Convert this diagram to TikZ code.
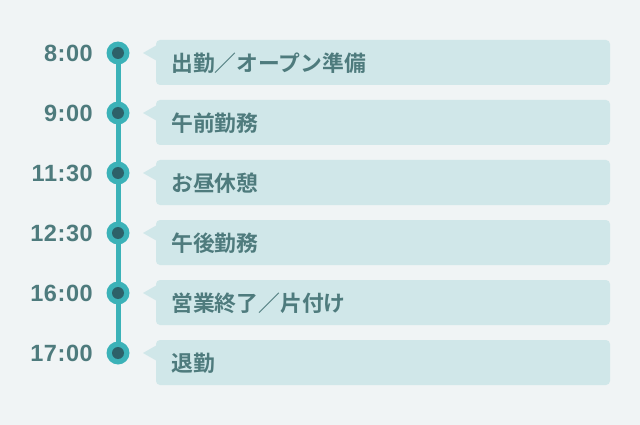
\documentclass[tikz,border=0pt]{standalone}
\usepackage{fontspec}
\setmainfont{Liberation Sans}
\newfontfamily\timefont{Liberation Sans}[LetterSpace=2.5]
\newfontfamily\jpfont{Noto Sans CJK JP}[BoldFont={* Bold}]
\definecolor{bgc}{HTML}{F0F4F5}
\definecolor{teal}{HTML}{3BB2B8}
\definecolor{dotin}{HTML}{2D6169}
\definecolor{boxc}{HTML}{D0E7E9}
\definecolor{txtc}{HTML}{4E7B7D}
\tikzset{
  timelbl/.style={anchor=east, text=txtc, font=\timefont\fontsize{23.5}{23.5}\selectfont\bfseries, inner sep=0pt},
  evbox/.style={fill=boxc, rounded corners=4pt, draw=none},
  evtext/.style={anchor=west, text=txtc, font=\jpfont\fontsize{21.8}{22}\selectfont\bfseries, inner sep=0pt},
  outerdot/.style={circle, fill=teal, minimum size=23pt, inner sep=0pt},
  innerdot/.style={circle, fill=dotin, minimum size=12pt, inner sep=0pt},
}
\begin{document}
\begin{tikzpicture}[x=1pt,y=-1pt]
\fill[bgc] (0,0) rectangle (640,425);
\useasboundingbox (0,0) rectangle (640,425);
\coordinate (top) at (118,53);
\coordinate (bot) at (118,353);
\draw[teal, line width=5pt] (top) -- (bot);
\foreach \i/\t/\e in {0/8:00/出勤／オープン準備, 1/9:00/午前勤務, 2/11:30/お昼休憩, 3/12:30/午後勤務, 4/16:00/営業終了／片付け, 5/17:00/退勤}{
  \pgfmathsetmacro{\yy}{53+60*\i}
  \node[outerdot] (d\i) at (118,\yy) {};
  \node[innerdot] at (d\i) {};
  \node[timelbl] (t\i) at (93,\yy) {\t};
  \fill[evbox] (156,\yy-13) rectangle (610,\yy+32);
  \fill[boxc] (143,\yy) -- (157,\yy-8) -- (157,\yy+8) -- cycle;
  \node[evtext] (e\i) at (171,\yy+10) {\e};
}
\end{tikzpicture}
\end{document}
